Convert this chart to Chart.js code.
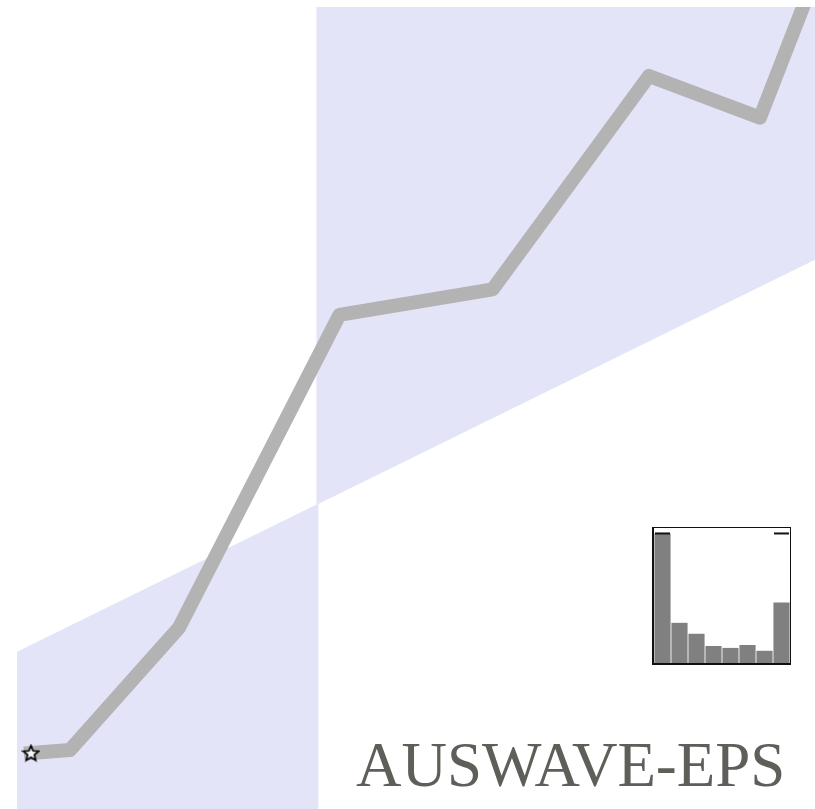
<!DOCTYPE html>
<html>
<head>
<meta charset="utf-8">
<script src="https://cdn.jsdelivr.net/npm/chart.js@4.4.1/dist/chart.umd.min.js"></script>
<style>
  html, body { margin: 0; padding: 0; background: #ffffff; }
  #wrap { position: relative; width: 815px; height: 809px; }
  #mainChart { position: absolute; left: 0; top: 0; }
  #histBox {
    position: absolute; left: 652px; top: 527px; width: 136px; height: 135px;
    border-top: 1.5px solid #111; border-right: 1.5px solid #111;
    border-left: 2px solid #111; border-bottom: 2px solid #111;
  }
</style>
</head>
<body>
<div id="wrap">
  <canvas id="mainChart" width="815" height="809"></canvas>
  <div id="histBox"><canvas id="histChart" width="136" height="135"></canvas></div>
</div>
<script>
// trajectory of the main series
const trackX = [0.175, 0.664, 2.03, 4.04, 5.96, 7.92, 9.31, 10.03];
const trackY = [6.98, 7.36, 22.6, 61.6, 64.8, 91.4, 86.2, 104.6];

// shaded bands: lower-left wedge below the diagonal, upper-right above it
const lowBandX = [0, 3.78];
const lowBandY = [19.6, 38.1];
const highBandX = [3.75, 10];
const highBandY = [37.9, 68.5];

// inset histogram
const histBins = ['1', '2', '3', '4', '5', '6', '7', '8'];
const histFreq = [0.403, 0.125, 0.091, 0.053, 0.047, 0.056, 0.038, 0.188];
const histMark = [0.403, null, null, null, null, null, null, 0.403];

const title = 'AUSWAVE-EPS';

function toPoints(xs, ys) {
  return xs.map((x, i) => ({ x: x, y: ys[i] }));
}

// outlined five-pointed star used for the first point
function makeStar(size) {
  const c = document.createElement('canvas');
  c.width = size; c.height = size;
  const g = c.getContext('2d');
  const cx = size / 2, cy = size / 2 + 0.7;
  const outer = size / 2 - 1.5, inner = outer * 0.45;
  g.beginPath();
  for (let k = 0; k < 10; k++) {
    const r = k % 2 === 0 ? outer : inner;
    const a = -Math.PI / 2 + k * Math.PI / 5;
    const px = cx + r * Math.cos(a), py = cy + r * Math.sin(a);
    if (k === 0) g.moveTo(px, py); else g.lineTo(px, py);
  }
  g.closePath();
  g.fillStyle = '#f4f4fb';
  g.fill();
  g.lineWidth = 1.7;
  g.strokeStyle = '#000000';
  g.lineJoin = 'miter';
  g.stroke();
  return c;
}

const star = makeStar(19);
const band = '#e4e4f8';

const titlePlugin = {
  id: 'titleText',
  afterDraw(chart) {
    const ctx = chart.ctx;
    ctx.save();
    ctx.font = '63px "Liberation Serif", "Times New Roman", serif';
    ctx.fillStyle = '#5e5f58';
    ctx.textBaseline = 'alphabetic';
    ctx.textAlign = 'left';
    ctx.fillText(title, 356, 786);
    ctx.restore();
  }
};

new Chart(document.getElementById('mainChart'), {
  type: 'line',
  data: {
    datasets: [
      {
        data: toPoints(trackX, trackY),
        borderColor: '#b3b3b3',
        borderWidth: 14,
        borderJoinStyle: 'round',
        borderCapStyle: 'square',
        tension: 0,
        fill: false,
        clip: 0,
        order: 0,
        pointStyle: trackX.map((_, i) => i === 0 ? star : false),
        pointRadius: trackX.map((_, i) => i === 0 ? 9 : 0)
      },
      {
        data: toPoints(lowBandX, lowBandY),
        borderWidth: 0,
        pointRadius: 0,
        backgroundColor: band,
        fill: 'start',
        clip: 0,
        order: 2
      },
      {
        data: toPoints(highBandX, highBandY),
        borderWidth: 0,
        pointRadius: 0,
        backgroundColor: band,
        fill: 'end',
        clip: 0,
        order: 2
      }
    ]
  },
  options: {
    responsive: false,
    animation: false,
    layout: { autoPadding: false, padding: { left: 17, top: 7, right: 0, bottom: 0 } },
    scales: {
      x: { type: 'linear', display: false, min: 0, max: 10 },
      y: { type: 'linear', display: false, min: 0, max: 100 }
    },
    plugins: { legend: { display: false }, tooltip: { enabled: false } }
  },
  plugins: [titlePlugin]
});

new Chart(document.getElementById('histChart'), {
  type: 'bar',
  data: {
    labels: histBins,
    datasets: [
      {
        type: 'line',
        data: histMark,
        showLine: false,
        pointStyle: 'line',
        pointRadius: 7.5,
        pointBorderWidth: 2,
        pointBorderColor: '#111111',
        order: 0
      },
      {
        data: histFreq,
        backgroundColor: '#808080',
        borderWidth: 0,
        barPercentage: 0.95,
        categoryPercentage: 1,
        order: 1
      }
    ]
  },
  options: {
    responsive: false,
    animation: false,
    layout: { autoPadding: false, padding: 0 },
    scales: {
      x: { display: false, offset: true },
      y: { display: false, min: 0, max: 0.42 }
    },
    plugins: { legend: { display: false }, tooltip: { enabled: false } }
  }
});
</script>
</body>
</html>
